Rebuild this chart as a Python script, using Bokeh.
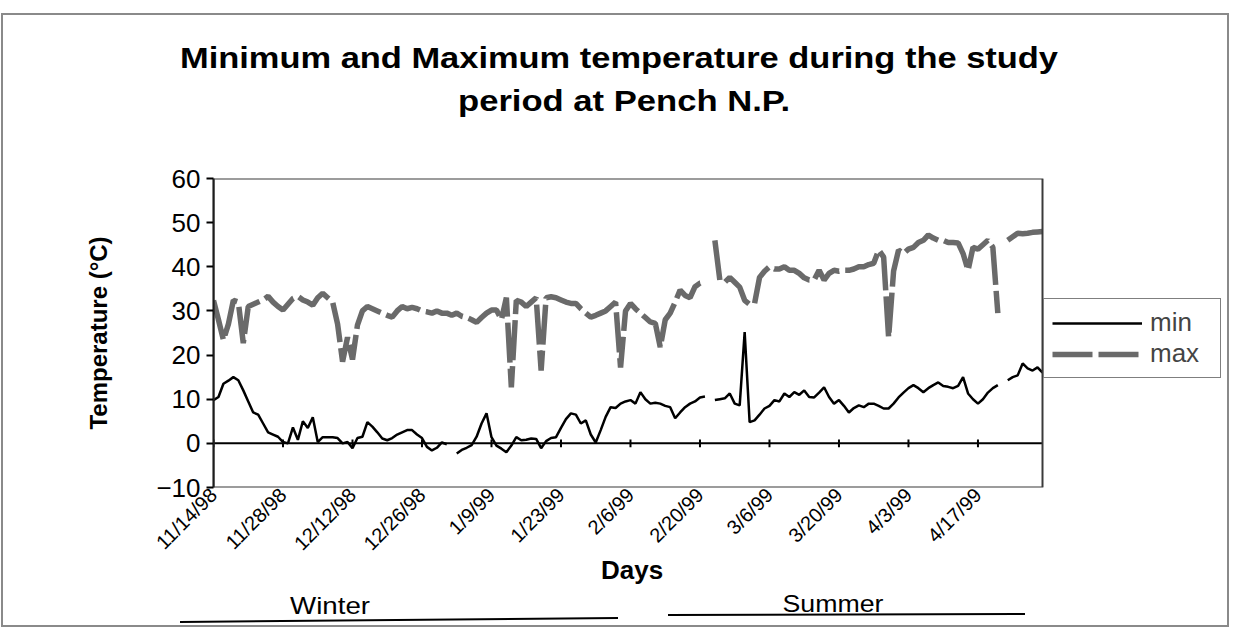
import math
import numpy as np
import pandas as pd
from bokeh.plotting import figure
from bokeh.layouts import column
from bokeh.models import (Legend, LegendItem, FixedTicker, Range1d, Spacer, Div,
                          BoxAnnotation, Title)
from bokeh.embed import file_html
from bokeh.resources import INLINE

nan = float("nan")

# ---------------- data ----------------
start_date = "1998-11-14"
tick_labels = ["11/14/98", "11/28/98", "12/12/98", "12/26/98", "1/9/99", "1/23/99",
               "2/6/99", "2/20/99", "3/6/99", "3/20/99", "4/3/99", "4/17/99"]

t_min = [
    9.8, 10.5, 13.5, 14.2, 15.0, 14.3, 12.0, 9.5, 7.0, 6.5,
    4.5, 2.5, 2.0, 1.5, 0.3, 0.0, 3.6, 0.8, 5.0, 3.5,
    5.9, 0.3, 1.4, 1.4, 1.4, 1.2, 0.0, 0.3, -1.1, 1.2,
    1.5, 4.8, 3.8, 2.5, 1.1, 0.7, 1.2, 2.0, 2.5, 3.0,
    3.0, 2.0, 1.2, -0.8, -1.6, -1.0, 0.2, -0.2, nan, -2.3,
    -1.5, -1.0, -0.4, 1.5, 4.5, 6.8, 1.4, -0.5, -1.2, -2.0,
    -0.5, 1.4, 0.7, 0.8, 1.1, 1.0, -1.1, 0.5, 1.2, 1.4,
    3.5, 5.5, 6.8, 6.5, 4.5, 5.2, 2.0, 0.2, 3.0, 6.0,
    8.2, 8.0, 9.0, 9.5, 9.8, 9.0, 11.6, 10.0, 9.0, 9.2,
    9.0, 8.5, 8.2, 5.7, 7.0, 8.2, 9.0, 9.5, 10.4, 10.6,
    nan, 9.8, 10.0, 10.2, 11.3, 9.0, 8.6, 25.2, 4.8, 5.2,
    6.5, 7.9, 8.5, 9.8, 9.5, 11.3, 10.5, 11.6, 11.0, 12.0,
    10.5, 10.4, 11.5, 12.7, 10.5, 9.0, 9.8, 8.5, 7.0, 8.0,
    8.6, 8.2, 9.0, 9.0, 8.5, 7.9, 7.9, 9.0, 10.4, 11.5,
    12.5, 13.2, 12.5, 11.6, 12.5, 13.2, 13.8, 13.0, 12.8, 12.5,
    13.0, 15.0, 11.3, 10.0, 9.0, 10.0, 11.5, 12.5, 13.2, nan,
    14.3, 15.0, 15.4, 18.1, 17.0, 16.5, 17.2, 16.0,
]

t_max = [
    32.4, 28.0, 23.4, 27.0, 32.4, 32.0, 22.7, 31.0, 31.5, 32.0,
    32.5, 33.3, 32.0, 31.0, 30.2, 31.5, 32.8, 33.3, 32.5, 32.0,
    31.3, 33.0, 34.0, 33.0, 32.0, 27.0, 18.5, 24.0, 19.0, 26.8,
    30.0, 31.0, 30.5, 30.0, 29.5, 29.0, 28.6, 30.0, 31.0, 30.5,
    30.8, 30.5, 30.0, 29.8, 29.5, 30.0, 29.5, 29.5, 29.0, 29.5,
    28.8, 28.5, 28.0, 27.4, 28.5, 29.5, 30.2, 30.2, 28.0, 33.0,
    12.7, 32.4, 32.0, 31.0, 32.0, 33.0, 16.5, 33.0, 33.2, 33.0,
    32.5, 32.0, 31.7, 31.7, 30.5, 29.5, 28.6, 29.0, 29.5, 30.0,
    31.0, 32.0, 17.2, 30.0, 31.7, 30.5, 29.5, 28.5, 27.5, 27.2,
    21.8, 28.0, 29.5, 32.0, 34.7, 33.5, 33.0, 35.5, 36.3, 36.5,
    nan, 46.0, 37.0, 36.5, 37.6, 36.5, 35.4, 32.4, 31.5, 31.7,
    37.6, 39.0, 40.0, 39.5, 39.5, 40.0, 39.2, 39.2, 38.5, 37.5,
    37.0, 37.0, 39.2, 37.0, 38.5, 39.2, 39.0, 39.2, 39.2, 39.5,
    40.0, 40.0, 40.5, 40.8, 43.8, 42.2, 24.0, 39.0, 43.8, 43.0,
    44.0, 44.4, 45.5, 46.0, 47.2, 46.5, 46.0, 46.0, 45.5, 45.5,
    45.4, 43.0, 39.2, 44.4, 44.0, 45.0, 46.0, 44.4, 29.5, nan,
    46.0, 46.8, 47.6, 47.5, 47.6, 47.8, 47.9, 48.0,
]

y_ticks = [-10, 0, 10, 20, 30, 40, 50, 60]
series_names = ["min", "max"]
seasons = ["Winter", "Summer"]
title_lines = ["Minimum and Maximum temperature during the study", "period at Pench N.P."]
x_label = "Days"
y_label = "Temperature (°C)"

# ---------------- derived ----------------
t0 = pd.Timestamp(start_date)
days = np.arange(len(t_min))
tick_days = [(pd.to_datetime(s, format="%m/%d/%y") - t0).days for s in tick_labels]

FONT = "Liberation Sans"
W = 1230
TOP_H = 118          # title block height (page y 12..130)
FIG_H = 460          # figure height (page y 130..590)
BOT_H = 38           # season strip height (page y 590..628)
PLOT_L, PLOT_R = 213, 1042      # plot-area edges (px)
FRAME_R = 1226                  # frame also hosts the legend box to the right
x_end = days[-1] * (FRAME_R - PLOT_L) / (PLOT_R - PLOT_L)

# ---------------- title block (inline svg text) ----------------
title_svg = (
    f'<svg width="{W}" height="{TOP_H}" xmlns="http://www.w3.org/2000/svg" style="display:block">'
    f'<text x="619" y="56" text-anchor="middle" font-family="{FONT}" font-weight="bold" '
    f'font-size="29" textLength="878" lengthAdjust="spacingAndGlyphs" fill="black">{title_lines[0]}</text>'
    f'<text x="624" y="99" text-anchor="middle" font-family="{FONT}" font-weight="bold" '
    f'font-size="29" textLength="332" lengthAdjust="spacingAndGlyphs" fill="black">{title_lines[1]}</text>'
    '</svg>'
)
top_div = Div(text=title_svg, width=W, height=TOP_H, styles={"margin": "0", "padding": "0"})

# ---------------- main chart ----------------
p = figure(width=W, height=FIG_H,
           x_range=Range1d(0, x_end), y_range=Range1d(y_ticks[0], y_ticks[-1]),
           output_backend="svg", toolbar_location=None,
           min_border_left=PLOT_L, min_border_right=W - FRAME_R,
           min_border_top=48, min_border_bottom=103)
p.background_fill_color = None
p.border_fill_color = None
p.grid.visible = False
p.outline_line_color = None

# plot-area border
p.add_layout(BoxAnnotation(left=days[0], right=days[-1], bottom=y_ticks[0], top=y_ticks[-1],
                           fill_alpha=0, line_color="#3a3a3a", line_alpha=1, line_width=2))

# y axis
p.yaxis.ticker = FixedTicker(ticks=y_ticks)
p.yaxis.minor_tick_line_color = None
p.yaxis.major_tick_out = 7
p.yaxis.major_tick_in = 0
p.yaxis.major_tick_line_width = 2
p.yaxis.axis_line_width = 2
p.yaxis.axis_line_color = "black"
p.yaxis.major_label_text_font = FONT
p.yaxis.major_label_text_font_size = "26px"
p.yaxis.major_label_text_color = "black"
p.yaxis.major_label_standoff = 6
p.yaxis.axis_label = y_label
p.yaxis.axis_label_text_font = FONT
p.yaxis.axis_label_text_font_style = "bold"
p.yaxis.axis_label_text_font_size = "24px"
p.yaxis.axis_label_text_color = "black"
p.yaxis.axis_label_standoff = 41

# x axis
p.xaxis.ticker = FixedTicker(ticks=tick_days)
p.xaxis.major_label_overrides = {d: s for d, s in zip(tick_days, tick_labels)}
p.xaxis.major_label_orientation = math.pi / 4
p.xaxis.minor_tick_line_color = None
p.xaxis.major_tick_line_color = None
p.xaxis.axis_line_color = None
p.xaxis.major_label_text_font = FONT
p.xaxis.major_label_text_font_size = "20px"
p.xaxis.major_label_text_color = "black"
p.xaxis.major_label_standoff = -2

# "Days" label under the plot area (left-aligned title shifted to the plot-area centre)
days_offset = (PLOT_L + PLOT_R) / 2 + 4 - PLOT_L - 31
p.add_layout(Title(text=x_label, align="left", offset=days_offset, text_font=FONT,
                   text_font_style="bold", text_font_size="26px", text_color="black",
                   standoff=-38), "below")

# zero line with tick marks
p.line(x=[days[0], days[-1]], y=[0, 0], line_color="black", line_width=2)
p.segment(x0=tick_days, y0=[-0.9] * len(tick_days), x1=tick_days, y1=[0.9] * len(tick_days),
          line_color="black", line_width=2)

r_min = p.line(days, np.array(t_min), line_color="black", line_width=2.5)
r_max = p.line(days, np.array(t_max), line_color="#6a6a6a", line_width=5.5,
               line_dash="40 6")

legend = Legend(items=[LegendItem(label=series_names[0], renderers=[r_min]),
                       LegendItem(label=series_names[1], renderers=[r_max])],
                location=(PLOT_R - PLOT_L + 1, 109))
legend.glyph_width = 90
legend.glyph_height = 24
legend.label_width = 62
legend.label_text_font = FONT
legend.label_text_font_size = "26px"
legend.label_standoff = 8
legend.padding = 8
legend.spacing = 0
legend.margin = 0
legend.border_line_color = "black"
legend.border_line_width = 1.5
legend.background_fill_color = "white"
legend.background_fill_alpha = 1
p.add_layout(legend, "center")

# ---------------- season strip (inline svg) ----------------
season_svg = (
    f'<svg width="{W}" height="{BOT_H}" xmlns="http://www.w3.org/2000/svg" style="display:block">'
    f'<text x="330" y="24" text-anchor="middle" font-family="{FONT}" font-size="24" '
    f'textLength="80" lengthAdjust="spacingAndGlyphs" fill="black">{seasons[0]}</text>'
    f'<text x="833" y="22" text-anchor="middle" font-family="{FONT}" font-size="24" '
    f'textLength="101" lengthAdjust="spacingAndGlyphs" fill="black">{seasons[1]}</text>'
    '<line x1="180" y1="32" x2="618" y2="28" stroke="black" stroke-width="2"/>'
    '<line x1="668" y1="25" x2="1025" y2="24" stroke="black" stroke-width="2"/>'
    '</svg>'
)
bot_div = Div(text=season_svg, width=W, height=BOT_H, styles={"margin": "0", "padding": "0"})

inner = column(top_div, p, bot_div, spacing=0,
               styles={"outline": "2px solid #8a8a8a", "outline-offset": "-3px"})
root = column(Spacer(height=12, width=W), inner, spacing=0)

open("out.html", "w").write(file_html(root, INLINE))
